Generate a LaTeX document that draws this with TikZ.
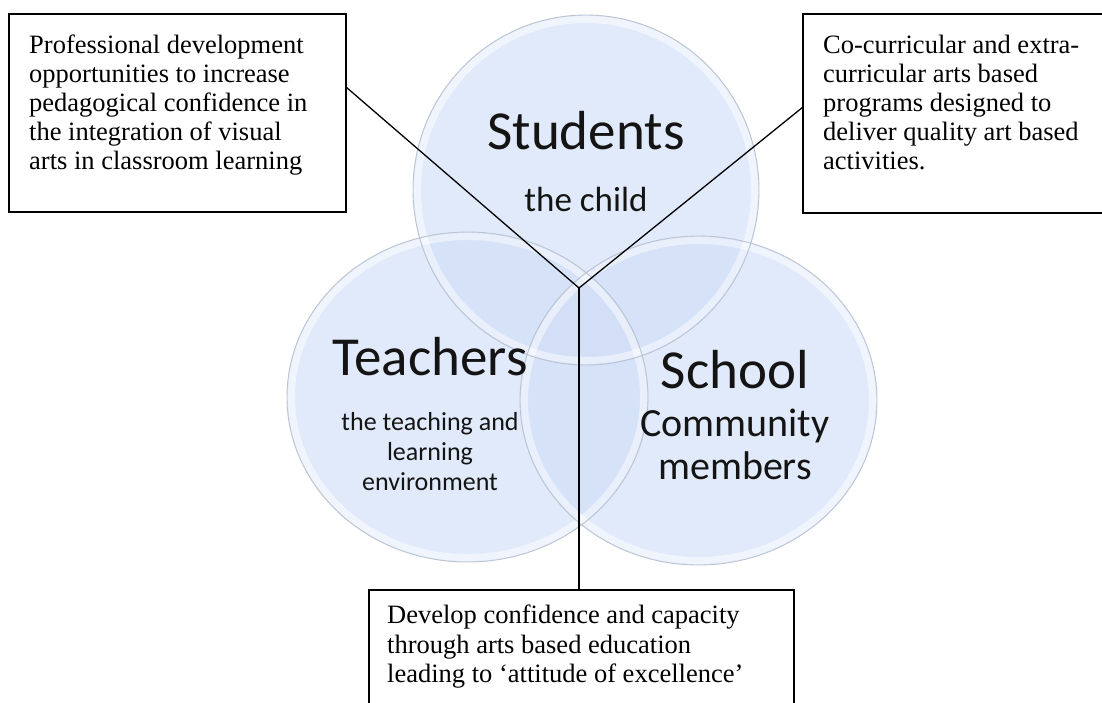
\documentclass[tikz,border=0pt]{standalone}
\usepackage{fontspec}
\setmainfont{Liberation Serif}
\newfontfamily\carlfont{Carlito}
\definecolor{circfill}{RGB}{208,222,247}
\definecolor{circedge}{RGB}{188,196,210}
\definecolor{circtext}{RGB}{20,20,20}
\begin{document}
\begin{tikzpicture}[x=1pt,y=-1pt,
  venn/.style={fill=circfill,fill opacity=0.62,draw=none},
  vennedge/.style={draw=circedge,line width=0.9pt},
  vennglow/.style={draw=white,draw opacity=0.5,line width=7pt},
  boxst/.style={draw=black,line width=1.2pt,fill=white,inner sep=0pt,outer sep=0pt,anchor=north west},
  boxtext/.style={font=\fontsize{26.5}{29}\selectfont,align=left,inner sep=0pt,anchor=north west},
  bigword/.style={font=\carlfont\fontsize{55}{60}\selectfont,text=circtext,inner sep=0pt},
  subword/.style={font=\carlfont\fontsize{35}{40}\selectfont,text=circtext,inner sep=0pt,align=center},
  conn/.style={draw=black,line width=1.3pt}]
\path[use as bounding box] (0,0) rectangle (1102,702);
\clip (0,0) rectangle (1102,702);
\fill[white] (0,0) rectangle (1102,702);
% circles
\path[venn] (586,190) ellipse [x radius=173pt, y radius=175pt];
\path[venn] (467.5,397) ellipse [x radius=180.5pt, y radius=165pt];
\path[venn] (698.5,400.5) ellipse [x radius=178.5pt, y radius=164.5pt];
\path[vennglow] (586,190) ellipse [x radius=168.5pt, y radius=170.5pt];
\path[vennglow] (467.5,397) ellipse [x radius=176pt, y radius=160.5pt];
\path[vennglow] (698.5,400.5) ellipse [x radius=174pt, y radius=160pt];
\path[vennedge] (586,190) ellipse [x radius=173pt, y radius=175pt];
\path[vennedge] (467.5,397) ellipse [x radius=180.5pt, y radius=165pt];
\path[vennedge] (698.5,400.5) ellipse [x radius=178.5pt, y radius=164.5pt];
% circle texts
\node[bigword] (students) at (586,131) {Students};
\node[subword] (child) at (586,199) {the child};
\node[bigword] (teachers) at (430,357) {Teachers};
\node[subword,font=\carlfont\fontsize{26}{30}\selectfont] (teachsub) at (430,452) {the teaching and\\learning\\environment};
\node[bigword] (school) at (735,370) {School};
\node[subword,font=\carlfont\fontsize{40}{43}\selectfont] (community) at (735,444) {Community\\members};
% boxes
\node[boxst,minimum width=337pt,minimum height=198pt] (lbox) at (9,14) {};
\node[boxst,minimum width=330pt,minimum height=199pt] (rbox) at (803,14) {};
\node[boxst,minimum width=425pt,minimum height=140pt] (bbox) at (369,590) {};
\node[boxtext] (ltext) at (29,35) {Professional development\\opportunities to increase\\pedagogical confidence in\\the integration of visual\\arts in classroom learning};
\node[boxtext] (rtext) at (823,35) {Co-curricular and extra-\\curricular arts based\\programs designed to\\deliver quality art based\\activities.};
\node[boxtext,font=\fontsize{26.5}{29.5}\selectfont] (btext) at (387,605) {Develop confidence and capacity\\through arts based education\\leading to ‘attitude of excellence’};
% connectors
\coordinate (hub) at (579,288);
\draw[conn] ([yshift=26pt]lbox.east) -- (hub) -- ([yshift=6.5pt]rbox.west);
\draw[conn] (hub) -- (hub |- bbox.north);
\end{tikzpicture}
\end{document}
